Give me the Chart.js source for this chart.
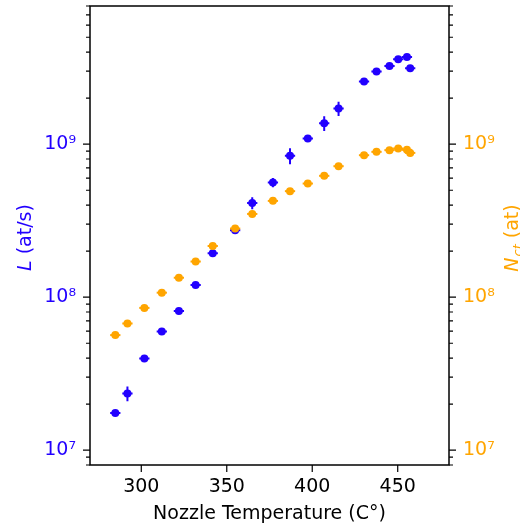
<!DOCTYPE html>
<html>
<head>
<meta charset="utf-8">
<title>L and N_ct vs nozzle temperature</title>
<script src="https://cdn.jsdelivr.net/npm/chart.js@4.4.1/dist/chart.umd.min.js"></script>
<style>
  html, body { margin: 0; padding: 0; background: #fff; }
  #wrap { width: 520px; height: 528px; }
</style>
</head>
<body>
<div id="wrap"><canvas id="chart" width="520" height="528"></canvas></div>
<script>
// Nozzle temperature of each measurement (C°)
const temps = [284.8, 291.9, 301.8, 312.0, 322.0, 331.8, 341.8, 354.9, 364.9, 377.0,
               387.0, 397.4, 407.0, 415.4, 430.3, 437.6, 445.2, 450.3, 455.4, 457.3];
const tempErr = [3, 3, 3, 3, 3, 3, 3, 3, 3, 3, 3, 3, 3, 3, 3, 3, 3, 3, 3, 3];

// Loading rate L (at/s), left axis
const loadRate = [1.75e7, 2.35e7, 3.97e7, 5.97e7, 8.13e7, 1.20e8, 1.94e8, 2.74e8, 4.13e8, 5.62e8,
                  8.39e8, 1.09e9, 1.37e9, 1.71e9, 2.57e9, 2.99e9, 3.24e9, 3.59e9, 3.71e9, 3.13e9];
const loadErr = [0.05e7, 0.26e7, 0.1e7, 0.15e7, 0.2e7, 0.3e7, 0.5e7, 0.15e8, 0.37e8, 0.4e8,
                 1.0e8, 0.5e8, 0.15e9, 0.18e9, 0.08e9, 0.08e9, 0.08e9, 0.1e9, 0.1e9, 0.08e9];

// Atom number N_ct (at), right axis
const atomNum = [5.65e7, 6.73e7, 8.51e7, 1.07e8, 1.34e8, 1.71e8, 2.16e8, 2.81e8, 3.50e8, 4.26e8,
                 4.93e8, 5.53e8, 6.21e8, 7.18e8, 8.47e8, 8.91e8, 9.14e8, 9.37e8, 9.18e8, 8.77e8];

// Axes
const xRange = [270, 480];
const yRange = [8e6, 8e9];
const xTicks = [300, 350, 400, 450];
const yTicks = [1e7, 1e8, 1e9];
const yTickLabels = ['10⁷', '10⁸', '10⁹'];

const BLUE = '#2200ff';
const ORANGE = '#ffa500';
const FONT = 'DejaVu Sans';

// error bars, drawn under the markers of each dataset
const errorBars = {
  id: 'errorBars',
  beforeDatasetDraw(chart, args) {
    const ds = chart.data.datasets[args.index];
    const xs = chart.scales.x, ys = chart.scales[ds.yAxisID];
    const ctx = chart.ctx;
    ctx.save();
    ctx.strokeStyle = ds.borderColor;
    ctx.lineWidth = 2;
    ds.data.forEach((p, i) => {
      const px = xs.getPixelForValue(p.x), py = ys.getPixelForValue(p.y);
      ctx.beginPath();
      if (ds.errX) {
        ctx.moveTo(xs.getPixelForValue(p.x - ds.errX[i]), py);
        ctx.lineTo(xs.getPixelForValue(p.x + ds.errX[i]), py);
      }
      if (ds.errY) {
        ctx.moveTo(px, ys.getPixelForValue(p.y - ds.errY[i]));
        ctx.lineTo(px, ys.getPixelForValue(p.y + ds.errY[i]));
      }
      ctx.stroke();
    });
    ctx.restore();
  }
};

// frame, tick marks and the two y titles
const frame = {
  id: 'frame',
  afterDraw(chart) {
    const { ctx, chartArea: a, scales } = chart;
    ctx.save();
    ctx.strokeStyle = '#000';
    ctx.lineWidth = 1.5;
    ctx.strokeRect(a.left, a.top, a.right - a.left, a.bottom - a.top);

    ctx.lineWidth = 1.2;
    ctx.beginPath();
    xTicks.forEach(v => {
      const px = scales.x.getPixelForValue(v);
      ctx.moveTo(px, a.bottom);
      ctx.lineTo(px, a.bottom + 7);
    });
    // log ticks: decades long, 2..9 short
    for (let e = 6; e <= 9; e++) {
      for (let m = 1; m <= 9; m++) {
        const v = m * Math.pow(10, e);
        if (v < yRange[0] || v > yRange[1]) continue;
        const len = m === 1 ? 7 : 4;
        const py = scales.y.getPixelForValue(v);
        ctx.moveTo(a.left, py);
        ctx.lineTo(a.left - len, py);
        const py2 = scales.y2.getPixelForValue(v);
        ctx.moveTo(a.right, py2);
        ctx.lineTo(a.right + len, py2);
      }
    }
    ctx.stroke();

    const midY = (a.top + a.bottom) / 2;

    // left title: L (at/s)
    ctx.fillStyle = BLUE;
    ctx.textBaseline = 'alphabetic';
    ctx.textAlign = 'left';
    ctx.font = 'italic 19px "' + FONT + '"';
    const wL = ctx.measureText('L').width;
    ctx.font = '19px "' + FONT + '"';
    const wRest = ctx.measureText(' (at/s)').width;
    ctx.translate(31, midY + 2);
    ctx.rotate(-Math.PI / 2);
    let x0 = -(wL + wRest) / 2;
    ctx.font = 'italic 19px "' + FONT + '"';
    ctx.fillText('L', x0, 0);
    ctx.font = '19px "' + FONT + '"';
    ctx.fillText(' (at/s)', x0 + wL, 0);
    ctx.restore();

    // right title: N_ct (at)
    ctx.save();
    ctx.fillStyle = ORANGE;
    ctx.textBaseline = 'alphabetic';
    ctx.textAlign = 'left';
    ctx.font = 'italic 19px "' + FONT + '"';
    const wN = ctx.measureText('N').width;
    ctx.font = 'italic 13px "' + FONT + '"';
    const wSub = ctx.measureText('ct').width;
    ctx.font = '19px "' + FONT + '"';
    const wAt = ctx.measureText(' (at)').width;
    ctx.translate(518, midY + 3);
    ctx.rotate(-Math.PI / 2);
    x0 = -(wN + wSub + wAt) / 2;
    ctx.font = 'italic 19px "' + FONT + '"';
    ctx.fillText('N', x0, 0);
    ctx.font = 'italic 13px "' + FONT + '"';
    ctx.fillText('ct', x0 + wN + 1, 4);
    ctx.font = '19px "' + FONT + '"';
    ctx.fillText(' (at)', x0 + wN + wSub + 1, 0);
    ctx.restore();
  }
};

function logLabel(v) {
  const i = yTicks.findIndex(t => Math.abs(t - v) / t < 1e-6);
  return i >= 0 ? yTickLabels[i] : '';
}

function yAxis(position, color, width) {
  return {
    type: 'logarithmic',
    position: position,
    min: yRange[0],
    max: yRange[1],
    afterBuildTicks: s => { s.ticks = yTicks.map(v => ({ value: v, major: true })); },
    afterFit: s => { s.width = width; s.paddingTop = 0; s.paddingBottom = 0; },
    grid: { display: false, drawTicks: false },
    border: { display: false },
    ticks: {
      callback: logLabel,
      color: color,
      font: { family: FONT, size: 19 },
      padding: 14,
      autoSkip: false
    }
  };
}

new Chart(document.getElementById('chart'), {
  type: 'scatter',
  data: {
    datasets: [
      {
        label: 'N_ct (at)',
        data: temps.map((t, i) => ({ x: t, y: atomNum[i] })),
        yAxisID: 'y2',
        backgroundColor: ORANGE,
        borderColor: ORANGE,
        pointRadius: 4,
        pointBorderWidth: 0,
        errX: tempErr
      },
      {
        label: 'L (at/s)',
        data: temps.map((t, i) => ({ x: t, y: loadRate[i] })),
        yAxisID: 'y',
        backgroundColor: BLUE,
        borderColor: BLUE,
        pointRadius: 4,
        pointBorderWidth: 0,
        errX: tempErr,
        errY: loadErr
      }
    ]
  },
  options: {
    responsive: false,
    animation: false,
    devicePixelRatio: 1,
    layout: { padding: { top: 6, left: 0, right: 0, bottom: 0 } },
    plugins: { legend: { display: false }, tooltip: { enabled: false } },
    scales: {
      x: {
        type: 'linear',
        min: xRange[0],
        max: xRange[1],
        afterBuildTicks: s => { s.ticks = xTicks.map(v => ({ value: v })); },
        afterFit: s => { s.height = 63; s.paddingLeft = 0; s.paddingRight = 0; },
        grid: { display: false, drawTicks: false },
        border: { display: false },
        ticks: { color: '#000', font: { family: FONT, size: 19 }, padding: 11, maxRotation: 0 },
        title: {
          display: true,
          text: 'Nozzle Temperature (C°)',
          color: '#000',
          font: { family: FONT, size: 19 },
          padding: { top: 0, bottom: 3 }
        }
      },
      y: yAxis('left', BLUE, 90),
      y2: yAxis('right', ORANGE, 71)
    }
  },
  plugins: [errorBars, frame]
});
</script>
</body>
</html>
